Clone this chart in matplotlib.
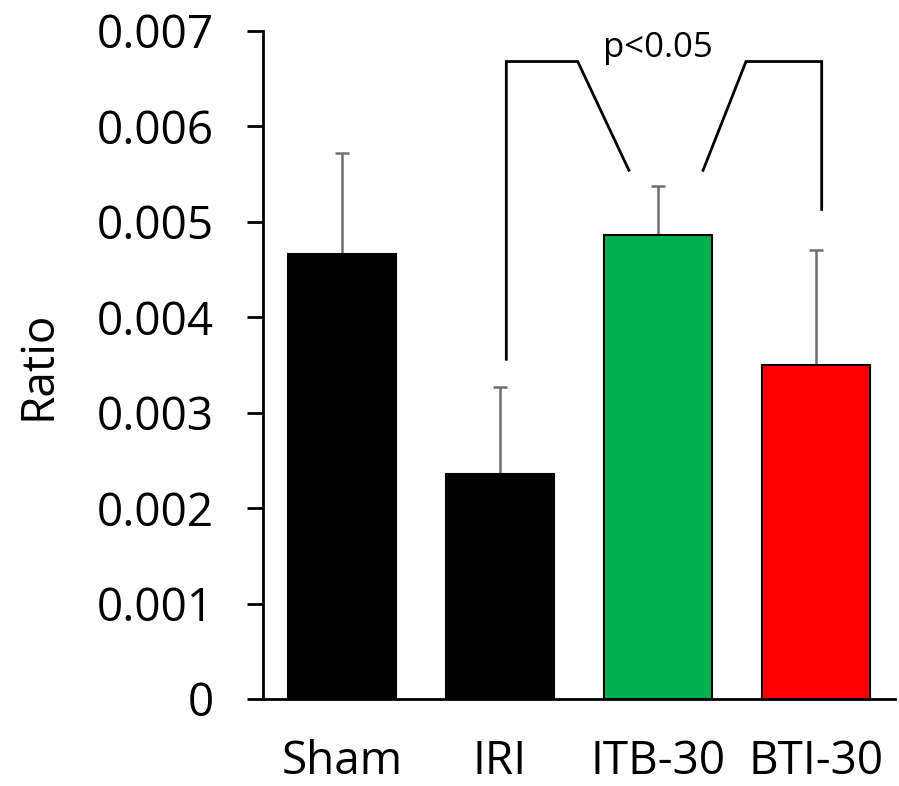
import matplotlib
matplotlib.use("Agg")
import matplotlib.pyplot as plt
import numpy as np

categories = ["Sham", "IRI", "ITB-30", "BTI-30"]
values = [0.00466, 0.00236, 0.00486, 0.00350]
errors = [0.00106, 0.00091, 0.00052, 0.00120]
colors = ["#000000", "#000000", "#00b050", "#ff0000"]
yticks = [0, 0.001, 0.002, 0.003, 0.004, 0.005, 0.006, 0.007]
ytick_labels = ["0", "0.001", "0.002", "0.003", "0.004", "0.005", "0.006", "0.007"]
sig_label = "p<0.05"

plt.rcParams["font.family"] = ["Open Sans", "DejaVu Sans"]

fig = plt.figure(figsize=(8.99, 7.86), dpi=100)
ax = fig.add_axes([263 / 899, 1 - 699 / 786, 632 / 899, 668 / 786])

x = np.arange(len(categories))
ax.bar(x, values, width=0.68, color=colors, edgecolor="black", linewidth=1.5, zorder=2)
ax.errorbar(x, values, yerr=[np.zeros(len(errors)), errors], fmt="none",
            ecolor="#6e6e6e", elinewidth=1.8, capsize=4.7, capthick=1.8, zorder=1)

ax.set_xlim(-0.5, 3.5)
ax.set_ylim(0, 0.007)
ax.set_yticks(yticks)
ax.set_yticklabels(ytick_labels)
ax.set_xticks(x)
ax.set_xticklabels(categories)
ax.tick_params(axis="y", direction="out", length=11.5, width=2, labelsize=33, pad=24)
ax.tick_params(axis="x", length=0, labelsize=33, pad=29)
for s in ["top", "right"]:
    ax.spines[s].set_visible(False)
for s in ["left", "bottom"]:
    ax.spines[s].set_linewidth(2)

ax.set_ylabel("Ratio", fontsize=33, labelpad=25)

# significance bracket between IRI and BTI-30, broken around ITB-30
tops = [v + e for v, e in zip(values, errors)]
y_top = 0.00668
xl = x[1] + 0.04
xr = x[3] + 0.036
y_l = tops[1] + 0.00029
y_r = tops[3] + 0.00043
y_d = tops[2] + 0.00016
lw = 2
ax.plot([xl, xl, x[2] - 0.508, x[2] - 0.184], [y_l, y_top, y_top, y_d],
        color="black", lw=lw, solid_joinstyle="miter", clip_on=False)
ax.plot([x[2] + 0.285, x[2] + 0.557, xr, xr], [y_d, y_top, y_top, y_r],
        color="black", lw=lw, solid_joinstyle="miter", clip_on=False)
ax.text(x[2] - 0.003, 0.00673, sig_label, ha="center", va="baseline", fontsize=25)

fig.savefig("out.png", dpi=100)
